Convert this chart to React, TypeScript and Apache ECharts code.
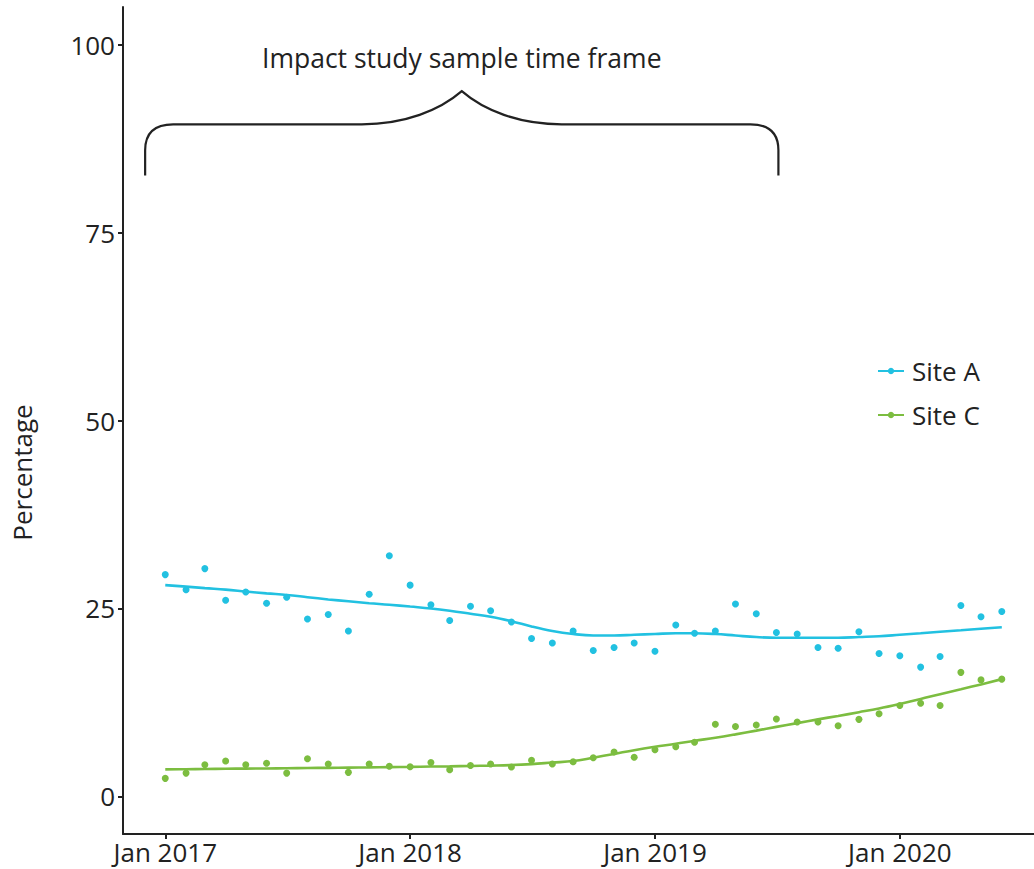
import React, { useEffect, useRef } from "react";
import * as echarts from "echarts";

const months: string[] = [
  "2017-01-01", "2017-02-01", "2017-03-01", "2017-04-01", "2017-05-01", "2017-06-01",
  "2017-07-01", "2017-08-01", "2017-09-01", "2017-10-01", "2017-11-01", "2017-12-01",
  "2018-01-01", "2018-02-01", "2018-03-01", "2018-04-01", "2018-05-01", "2018-06-01",
  "2018-07-01", "2018-08-01", "2018-09-01", "2018-10-01", "2018-11-01", "2018-12-01",
  "2019-01-01", "2019-02-01", "2019-03-01", "2019-04-01", "2019-05-01", "2019-06-01",
  "2019-07-01", "2019-08-01", "2019-09-01", "2019-10-01", "2019-11-01", "2019-12-01",
  "2020-01-01", "2020-02-01", "2020-03-01", "2020-04-01", "2020-05-01", "2020-06-01",
];

const siteA: number[] = [
  29.5, 27.5, 30.3, 26.1, 27.2, 25.7, 26.5, 23.6, 24.2, 22.0, 26.9, 32.0,
  28.1, 25.5, 23.4, 25.3, 24.7, 23.2, 21.0, 20.4, 22.0, 19.4, 19.8, 20.4,
  19.3, 22.8, 21.7, 22.0, 25.6, 24.3, 21.8, 21.6, 19.8, 19.7, 21.9, 19.0,
  18.7, 17.2, 18.6, 25.4, 23.9, 24.6,
];

const siteC: number[] = [
  2.4, 3.1, 4.2, 4.7, 4.2, 4.4, 3.1, 5.0, 4.3, 3.2, 4.3, 4.0,
  3.95, 4.5, 3.55, 4.1, 4.3, 3.9, 4.8, 4.3, 4.6, 5.15, 5.9, 5.2,
  6.2, 6.6, 7.2, 9.6, 9.3, 9.5, 10.3, 9.9, 9.9, 9.4, 10.25, 11.0,
  12.1, 12.4, 12.1, 16.5, 15.5, 15.6,
];

const trendA: number[] = [
  28.1, 27.9, 27.7, 27.5, 27.25, 27.0, 26.8, 26.5, 26.2, 25.95, 25.7, 25.5,
  25.25, 25.0, 24.7, 24.3, 23.9, 23.3, 22.6, 22.0, 21.6, 21.4, 21.4, 21.5,
  21.6, 21.7, 21.7, 21.6, 21.4, 21.2, 21.1, 21.1, 21.1, 21.1, 21.2, 21.3,
  21.5, 21.7, 21.9, 22.1, 22.3, 22.5,
];

const trendC: number[] = [
  3.6, 3.62, 3.65, 3.68, 3.7, 3.72, 3.75, 3.78, 3.8, 3.83, 3.86, 3.9,
  3.93, 3.97, 4.0, 4.05, 4.1, 4.17, 4.3, 4.5, 4.7, 5.15, 5.65, 6.15,
  6.6, 7.0, 7.4, 7.8, 8.25, 8.75, 9.25, 9.75, 10.25, 10.7, 11.2, 11.7,
  12.3, 12.95, 13.6, 14.25, 14.9, 15.6,
];

const yTicks: number[] = [0, 25, 50, 75, 100];
const xTickDates: string[] = ["2017-01-01", "2018-01-01", "2019-01-01", "2020-01-01"];
const xMin = "2016-10-30";
const xMax = "2020-07-19";
const yMin = -5;
const yMax = 105;

const braceStart = "2016-12-02";
const braceEnd = "2019-07-04";
const braceBottom = 82.6;
const braceMid = 89.4;
const braceTip = 93.8;
const braceLabelY = 98.2;
const braceLabel = "Impact study sample time frame";

const COLOR_A = "#22C1E1";
const COLOR_C = "#7CBD40";
const INK = "#222222";
const FONT = "'Open Sans', sans-serif";

const ts = (s: string) => new Date(s + "T00:00:00").getTime();

export default function App() {
  const ref = useRef<HTMLDivElement>(null);

  useEffect(() => {
    if (!ref.current) return;
    const chart = echarts.init(ref.current, undefined, { renderer: "svg" });

    const pairs = (vals: number[]) => months.map((m, i) => [ts(m), vals[i]]);

    const option: any = {
      animation: false,
      backgroundColor: "#ffffff",
      textStyle: { fontFamily: FONT, color: INK },
      grid: { left: 123, right: 0, top: 7, bottom: 35 },
      legend: {
        orient: "vertical",
        left: 877,
        top: 356,
        padding: 0,
        itemWidth: 26,
        itemHeight: 8,
        itemGap: 14,
        data: ["Site A", "Site C"],
        textStyle: { fontFamily: FONT, fontSize: 26, color: INK, lineHeight: 30, padding: [0, 0, 0, 3] },
      },
      xAxis: {
        type: "value",
        min: ts(xMin),
        max: ts(xMax),
        splitLine: { show: false },
        axisLine: { show: true, onZero: false, lineStyle: { color: INK, width: 2 } },
        axisTick: {
          show: true,
          length: 5,
          lineStyle: { color: INK, width: 2 },
          customValues: xTickDates.map(ts),
        },
        axisLabel: {
          customValues: xTickDates.map(ts),
          formatter: (v: number) => "Jan " + new Date(v).getFullYear(),
          fontFamily: FONT,
          fontSize: 26,
          color: INK,
          margin: 5,
        },
      },
      yAxis: {
        type: "value",
        min: yMin,
        max: yMax,
        name: "Percentage",
        nameLocation: "middle",
        nameGap: 88,
        nameTextStyle: { fontFamily: FONT, fontSize: 26, color: INK, padding: [0, 104, 0, 0] },
        splitLine: { show: false },
        axisLine: { show: true, onZero: false, lineStyle: { color: INK, width: 2 } },
        axisTick: { show: true, length: 5, lineStyle: { color: INK, width: 2 }, customValues: yTicks },
        axisLabel: {
          customValues: yTicks,
          fontFamily: FONT,
          fontSize: 26,
          color: INK,
          margin: 8,
        },
      },
      series: [
        {
          name: "Site A",
          type: "line",
          smooth: 0.4,
          data: pairs(trendA),
          symbol: "circle",
          symbolSize: 6,
          showSymbol: false,
          itemStyle: { color: COLOR_A },
          lineStyle: { color: COLOR_A, width: 2.6 },
          z: 3,
        },
        {
          name: "Site C",
          type: "line",
          smooth: 0.4,
          data: pairs(trendC),
          symbol: "circle",
          symbolSize: 6,
          showSymbol: false,
          itemStyle: { color: COLOR_C },
          lineStyle: { color: COLOR_C, width: 2.6 },
          z: 3,
        },
        {
          name: "Site A",
          type: "scatter",
          data: pairs(siteA),
          symbol: "circle",
          symbolSize: 7,
          itemStyle: { color: COLOR_A, opacity: 1 },
          z: 4,
        },
        {
          name: "Site C",
          type: "scatter",
          data: pairs(siteC),
          symbol: "circle",
          symbolSize: 7,
          itemStyle: { color: COLOR_C, opacity: 1 },
          z: 4,
        },
        {
          name: "brace",
          type: "custom",
          silent: true,
          clip: false,
          data: [[ts(braceStart), braceTip]],
          renderItem: (_params: any, api: any) => {
            const pL = api.coord([ts(braceStart), braceBottom]);
            const pR = api.coord([ts(braceEnd), braceBottom]);
            const pM = api.coord([ts(braceStart), braceMid]);
            const L = pL[0];
            const R = pR[0];
            const yb = pL[1];
            const ym = pM[1];
            const C = (L + R) / 2;
            const yt = api.coord([ts(braceStart), braceTip])[1];
            const ty = api.coord([ts(braceStart), braceLabelY])[1];
            const r = 26;
            const d = [
              `M ${L} ${yb}`,
              `L ${L} ${ym + r}`,
              `Q ${L} ${ym} ${L + r + 2} ${ym}`,
              `L ${C - 100} ${ym}`,
              `C ${C - 57} ${ym} ${C - 22} ${ym - 14} ${C} ${yt}`,
              `C ${C + 22} ${ym - 14} ${C + 57} ${ym} ${C + 100} ${ym}`,
              `L ${R - r - 2} ${ym}`,
              `Q ${R} ${ym} ${R} ${ym + r}`,
              `L ${R} ${yb}`,
            ].join(" ");
            return {
              type: "group",
              children: [
                {
                  type: "path",
                  shape: { pathData: d },
                  style: { stroke: INK, fill: "none", lineWidth: 2.2 },
                },
                {
                  type: "text",
                  x: C,
                  y: ty,
                  style: {
                    text: braceLabel,
                    fill: INK,
                    font: `26.5px ${FONT}`,
                    align: "center",
                    verticalAlign: "middle",
                  },
                },
              ],
            };
          },
        },
      ],
    };

    chart.setOption(option);
    return () => chart.dispose();
  }, []);

  return (
    <div
      ref={ref}
      style={{ position: "fixed", left: 0, top: 0, width: 1034, height: 869, background: "#fff" }}
    />
  );
}
